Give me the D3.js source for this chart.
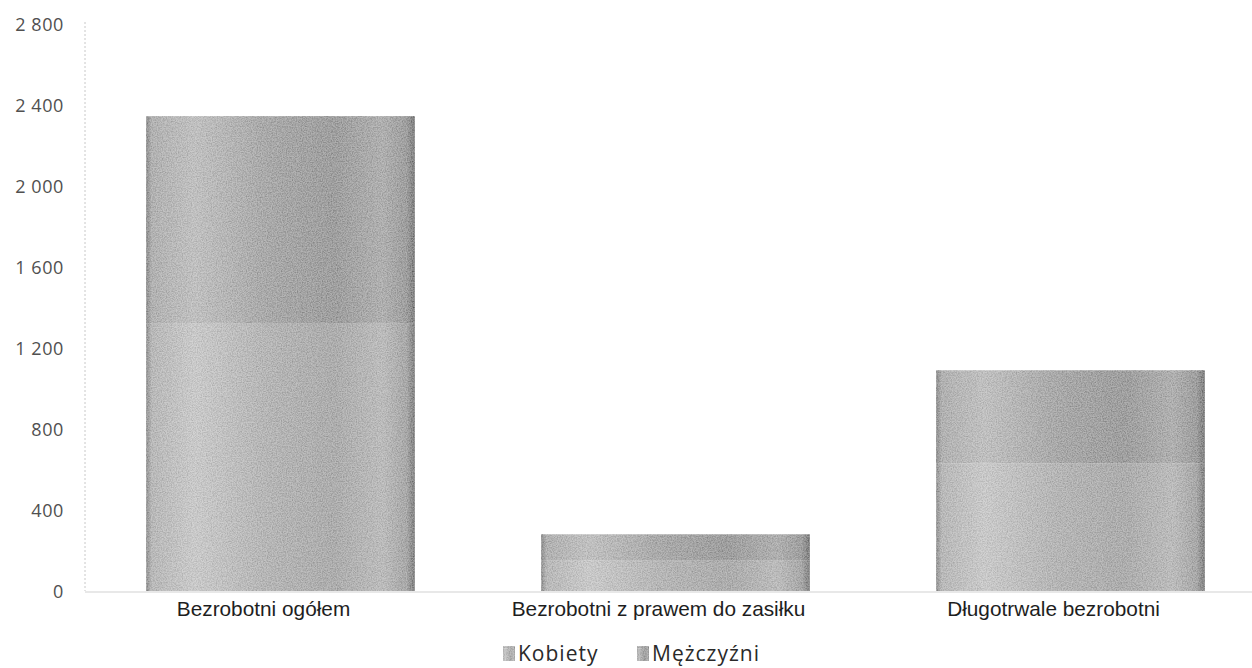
<!DOCTYPE html>
<html><head><meta charset="utf-8">
<script src="https://cdn.jsdelivr.net/npm/d3@7"></script>
<style>
html,body{margin:0;padding:0;background:#fff;}
svg{display:block;}
</style></head>
<body>
<svg id="chart" width="1252" height="668"></svg>
<script>
const categories = ["Bezrobotni ogółem", "Bezrobotni z prawem do zasiłku", "Długotrwale bezrobotni"];
const kobiety = [1320, 150, 630];
const mezczyzni = [1025, 130, 460];
const seriesNames = ["Kobiety", "Mężczyźni"];
const yTicks = [0, 400, 800, 1200, 1600, 2000, 2400, 2800];

const svg = d3.select("#chart");
const x = d3.scaleBand().domain(categories).range([83, 1268]).paddingInner(0.32).paddingOuter(0.16);
const y = d3.scaleLinear().domain([0, 2800]).range([591, 24]);

const defs = svg.append("defs");
function grad(id, stops) {
  const g = defs.append("linearGradient").attr("id", id).attr("x1", "0").attr("x2", "1").attr("y1", "0").attr("y2", "0");
  stops.forEach(s => g.append("stop").attr("offset", s[0]).attr("stop-color", s[1]));
}
grad("gK", [[0, "#7a7a7a"], [0.02, "#b0b0b0"], [0.18, "#c6c6c6"], [0.45, "#acacac"], [0.7, "#a0a0a0"], [0.88, "#b4b4b4"], [0.97, "#9a9a9a"], [1, "#5e5e5e"]]);
grad("gM", [[0, "#727272"], [0.02, "#a6a6a6"], [0.18, "#bababa"], [0.45, "#9b9b9b"], [0.7, "#8c8c8c"], [0.88, "#a4a4a4"], [0.97, "#8c8c8c"], [1, "#585858"]]);
const f = defs.append("filter").attr("id", "grain").attr("x", "0").attr("y", "0").attr("width", "1").attr("height", "1");
f.append("feTurbulence").attr("type", "fractalNoise").attr("baseFrequency", "0.8").attr("numOctaves", 2).attr("seed", 5).attr("result", "n");
f.append("feColorMatrix").attr("in", "n").attr("type", "matrix")
  .attr("values", "1.8 0 0 0 -0.25  1.8 0 0 0 -0.25  1.8 0 0 0 -0.25  0 0 0 0 0.22").attr("result", "nm");
f.append("feComposite").attr("in", "nm").attr("in2", "SourceGraphic").attr("operator", "in").attr("result", "nc");
f.append("feMerge").selectAll("feMergeNode").data(["SourceGraphic", "nc"]).enter().append("feMergeNode").attr("in", d => d);

// axis line (dotted) and baseline
svg.append("line").attr("x1", 85).attr("x2", 85).attr("y1", 22).attr("y2", 591)
  .attr("stroke", "#c8c8c8").attr("stroke-width", 1).attr("stroke-dasharray", "2,2");
svg.append("line").attr("x1", 85).attr("x2", 1252).attr("y1", 592).attr("y2", 592)
  .attr("stroke", "#e0e0e0").attr("stroke-width", 1.5);

// y tick labels
const yAxis = d3.axisLeft(y).tickValues(yTicks).tickSize(0).tickPadding(0)
  .tickFormat(d => d3.format(",")(d).replace(/,/g, " "));
const gy = svg.append("g").attr("transform", "translate(64,1)").call(yAxis);
gy.select(".domain").remove();
gy.selectAll("text").attr("font-family", "'Open Sans', sans-serif").attr("font-size", 18)
  .attr("letter-spacing", "0.6px").attr("fill", "#505050");

// stacked bars
const data = categories.map((c, i) => ({cat: c, Kobiety: kobiety[i], "Mężczyźni": mezczyzni[i]}));
const stack = d3.stack().keys(seriesNames)(data);
const fills = {"Kobiety": "url(#gK)", "Mężczyźni": "url(#gM)"};
svg.append("g").selectAll("g").data(stack).enter().append("g")
  .attr("fill", d => fills[d.key])
  .selectAll("rect").data(d => d).enter().append("rect")
  .attr("x", d => x(d.data.cat))
  .attr("width", x.bandwidth())
  .attr("y", d => y(d[1]))
  .attr("height", d => y(d[0]) - y(d[1]))
  .attr("filter", "url(#grain)");

// category labels
const xAxis = d3.axisBottom(x).tickSize(0).tickPadding(0);
const gx = svg.append("g").attr("transform", "translate(-17,600)").call(xAxis);
gx.select(".domain").remove();
gx.selectAll("text").attr("font-family", "'Liberation Sans', Arial, sans-serif").attr("font-size", 20.8).attr("fill", "#1e1e1e").attr("dy", "0.75em");

// legend
const legend = [{name: "Kobiety", x: 503, fill: "url(#gK)"}, {name: "Mężczyźni", x: 637, fill: "url(#gM)"}];
const lg = svg.append("g").selectAll("g").data(legend).enter().append("g").attr("transform", d => `translate(${d.x},646)`);
lg.append("rect").attr("width", 12).attr("height", 15).attr("fill", d => d.fill).attr("filter", "url(#grain)");
lg.append("text").attr("x", 15).attr("y", 8).attr("dy", "0.35em").text(d => d.name)
  .attr("font-family", "'Open Sans', sans-serif").attr("font-size", 21).attr("letter-spacing", "1px").attr("fill", "#2a2a2a");
</script>
</body></html>
